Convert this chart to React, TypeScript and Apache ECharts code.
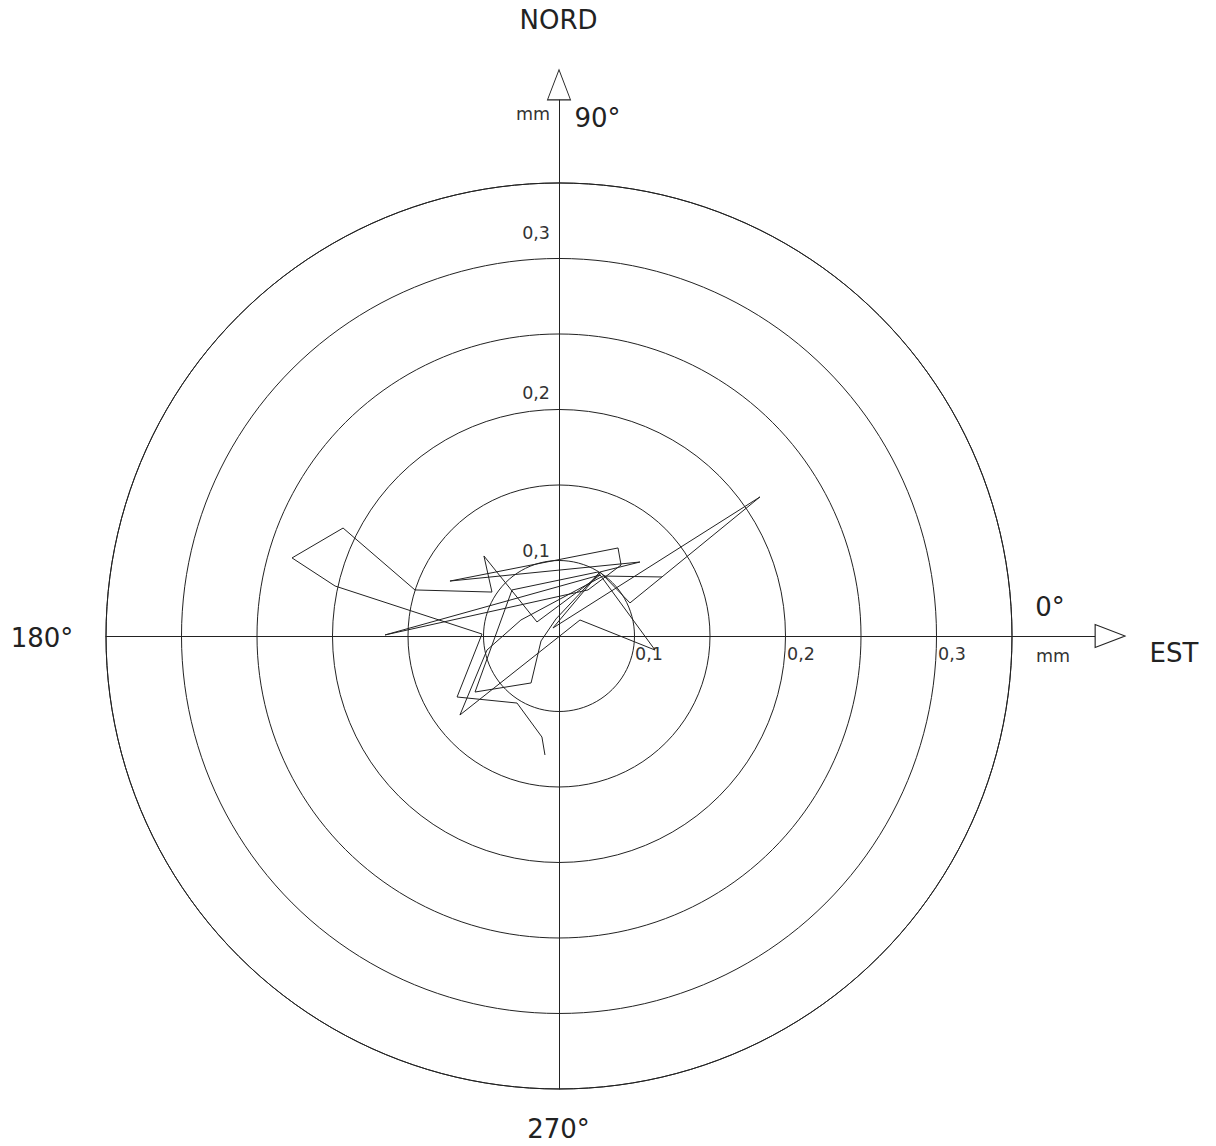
import React, { useEffect, useRef } from "react";
import * as echarts from "echarts";

// Displacement trajectory (mm): East component and North component, in reading order
const eastMM = [-0.0093, -0.0113, -0.0278, -0.0675, -0.051, -0.1483, -0.1768, -0.143, -0.0954, -0.0444, -0.0497, -0.0146, 0.0272, -0.1152, 0.0192, 0.0411, 0.0391, -0.0722, 0.0536, 0.0272, -0.004, 0.1331, 0.0682, 0.047, 0.0272, -0.002, -0.0119, -0.0185, -0.0556, -0.0311, 0.0258, 0.0636, 0.0139, -0.0656, -0.0477, -0.0252, 0.0291, 0.0682];
const northMM = [-0.0788, -0.0669, -0.0444, -0.0404, 0.0013, 0.0331, 0.0517, 0.0715, 0.0305, 0.0291, 0.053, 0.0093, 0.0404, 0.0007, 0.0305, 0.047, 0.0583, 0.0364, 0.049, 0.0424, 0.0053, 0.0921, 0.0391, 0.0219, 0.0424, 0.0113, -0.0033, -0.0311, -0.0371, 0.0305, 0.0424, -0.0093, 0.0106, -0.0523, -0.0093, 0.0106, 0.0397, 0.0391];

const ringMax = 0.3;
const ringStep = 0.05;
const axisEnd = 0.365;
const tickLabels = ["0,1", "0,2", "0,3"];
const angleLabels = ["0°", "90°", "180°", "270°"];
const northName = "NORD";
const eastName = "EST";
const unitName = "mm";

const W = 1216;
const H = 1146;
const CX = 559;
const CY = 636;
const R = 453;
const K = R / ringMax;

export default function App() {
  const ref = useRef<HTMLDivElement>(null);
  useEffect(() => {
    if (!ref.current) return;
    const chart = echarts.init(ref.current, undefined, { renderer: "svg" });
    const ink = "#222";
    const bigFont = { fontFamily: "DejaVu Sans", fontSize: 26, fill: ink };
    const smallFont = { fontFamily: "DejaVu Sans", fontSize: 17.5, fill: "#333" };
    const trajectory = eastMM.map((e, i) => [e, northMM[i]]);
    const xTickPos = [CX + 76, CX + 228, CX + 379];
    const yTickPos = [CY - 85.5, CY - 242.7, CY - 402.7];
    chart.setOption({
      animation: false,
      backgroundColor: "#fff",
      polar: { center: [CX, CY], radius: R },
      angleAxis: {
        type: "value",
        min: 0,
        max: 360,
        startAngle: 0,
        clockwise: false,
        axisLine: { show: true, lineStyle: { color: ink, width: 1 } },
        axisTick: { show: false },
        axisLabel: { show: false },
        splitLine: { show: false },
      },
      radiusAxis: {
        type: "value",
        min: 0,
        max: ringMax,
        interval: ringStep,
        axisLine: { show: false },
        axisTick: { show: false },
        axisLabel: { show: false },
        splitLine: { show: true, lineStyle: { color: ink, width: 1 } },
      },
      grid: {
        left: CX - R,
        top: CY - axisEnd * K,
        width: (axisEnd + ringMax) * K,
        height: (axisEnd + ringMax) * K,
        containLabel: false,
      },
      xAxis: {
        type: "value",
        min: -ringMax,
        max: axisEnd,
        axisLine: { show: true, onZero: true, lineStyle: { color: ink, width: 1 } },
        axisTick: { show: false },
        axisLabel: { show: false },
        splitLine: { show: false },
      },
      yAxis: {
        type: "value",
        min: -ringMax,
        max: axisEnd,
        axisLine: { show: true, onZero: true, lineStyle: { color: ink, width: 1 } },
        axisTick: { show: false },
        axisLabel: { show: false },
        splitLine: { show: false },
      },
      series: [
        {
          type: "line",
          data: trajectory,
          showSymbol: false,
          symbol: "none",
          lineStyle: { color: ink, width: 1 },
          z: 5,
        },
        {
          type: "scatter",
          clip: false,
          symbol: "triangle",
          symbolSize: [23, 30],
          itemStyle: { color: "#fff", borderColor: ink, borderWidth: 1, opacity: 1 },
          data: [
            { value: [axisEnd, 0], symbolRotate: -90 },
            { value: [0, axisEnd], symbolRotate: 0 },
          ],
          z: 10,
        },
      ],
      graphic: [
        { type: "text", x: 558.5, y: 19.5, style: { ...bigFont, text: northName, align: "center", verticalAlign: "middle" } },
        { type: "text", x: 1174, y: 653, style: { ...bigFont, text: eastName, align: "center", verticalAlign: "middle" } },
        { type: "text", x: 1050, y: 607, style: { ...bigFont, text: angleLabels[0], align: "center", verticalAlign: "middle" } },
        { type: "text", x: 597.5, y: 117.5, style: { ...bigFont, text: angleLabels[1], align: "center", verticalAlign: "middle" } },
        { type: "text", x: 42, y: 637.5, style: { ...bigFont, text: angleLabels[2], align: "center", verticalAlign: "middle" } },
        { type: "text", x: 558.5, y: 1129, style: { ...bigFont, text: angleLabels[3], align: "center", verticalAlign: "middle" } },
        { type: "text", x: 533, y: 113.5, style: { ...smallFont, text: unitName, align: "center", verticalAlign: "middle" } },
        { type: "text", x: 1053, y: 655.7, style: { ...smallFont, text: unitName, align: "center", verticalAlign: "middle" } },
        ...tickLabels.map((t, i) => ({
          type: "text",
          x: xTickPos[i],
          y: 653.5,
          style: { ...smallFont, text: t, align: "left", verticalAlign: "middle" },
        })),
        ...tickLabels.map((t, i) => ({
          type: "text",
          x: 550,
          y: yTickPos[i],
          style: { ...smallFont, text: t, align: "right", verticalAlign: "middle" },
        })),
      ],
    });
    return () => chart.dispose();
  }, []);
  return <div ref={ref} style={{ position: "absolute", left: 0, top: 0, width: W, height: H }} />;
}
